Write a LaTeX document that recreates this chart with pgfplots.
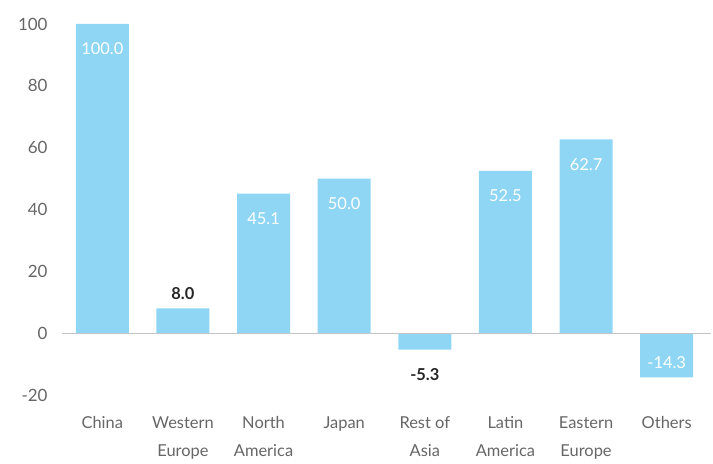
\documentclass[border=0pt]{standalone}
\usepackage{pgfplots}
\pgfplotsset{compat=1.18}
\usepackage{fontspec}
\setmainfont{Lato}
\definecolor{barblue}{HTML}{8FD6F5}
\definecolor{txtgray}{HTML}{666666}
\definecolor{basegray}{HTML}{C4C4C4}
\begin{document}
\begin{tikzpicture}
\useasboundingbox (-62bp,-69bp) rectangle (651bp,395bp);
\begin{axis}[
  at={(0,0)}, anchor=south west,
  scale only axis, width=645bp, height=371bp,
  xmin=-0.5, xmax=7.5, ymin=-20, ymax=100,
  axis line style={draw=none},
  major tick length=0pt,
  ytick={-20,0,20,40,60,80,100},
  xtick={0,1,2,3,4,5,6,7},
  xticklabels={China,{Western\\Europe},{North\\America},Japan,{Rest of\\Asia},{Latin\\America},{Eastern\\Europe},Others},
  x tick label style={align=center, anchor=north, yshift=-18bp, font=\fontsize{16.5}{28}\selectfont, text=txtgray},
  y tick label style={font=\fontsize{17}{19}\selectfont, text=txtgray, xshift=-11bp},
  /pgf/number format/assume math mode=true,
  clip=false,
]
\addplot[ybar, bar width=53bp, fill=barblue, draw=none] coordinates {
  (0,100.0) (1,8.0) (2,45.1) (3,50.0) (4,-5.3) (5,52.5) (6,62.7) (7,-14.3)};
\addplot[basegray, line width=1pt, mark=none] coordinates {(-0.5,0) (7.55,0)};
% inside labels (positive)
\addplot[draw=none, mark=none, nodes near coords, point meta=explicit symbolic,
  nodes near coords style={anchor=center, yshift=-25bp, text=white, font=\fontsize{16.5}{18}\selectfont}]
  coordinates {(0,100.0)[100.0] (2,45.1)[45.1] (3,50.0)[50.0] (5,52.5)[52.5] (6,62.7)[62.7]};
% inside label (negative)
\addplot[draw=none, mark=none, nodes near coords, point meta=explicit symbolic,
  nodes near coords style={anchor=center, yshift=15bp, text=white, font=\fontsize{16.5}{18}\selectfont}]
  coordinates {(7,-14.3)[-14.3]};
% outside labels
\addplot[draw=none, mark=none, nodes near coords, point meta=explicit symbolic,
  nodes near coords style={anchor=center, yshift=15bp, text=black!85, font=\bfseries\fontsize{16.5}{18}\selectfont}]
  coordinates {(1,8.0)[8.0]};
\addplot[draw=none, mark=none, nodes near coords, point meta=explicit symbolic,
  nodes near coords style={anchor=center, yshift=-25bp, text=black!85, font=\bfseries\fontsize{16.5}{18}\selectfont}]
  coordinates {(4,-5.3)[-5.3]};
\end{axis}
\end{tikzpicture}
\end{document}
